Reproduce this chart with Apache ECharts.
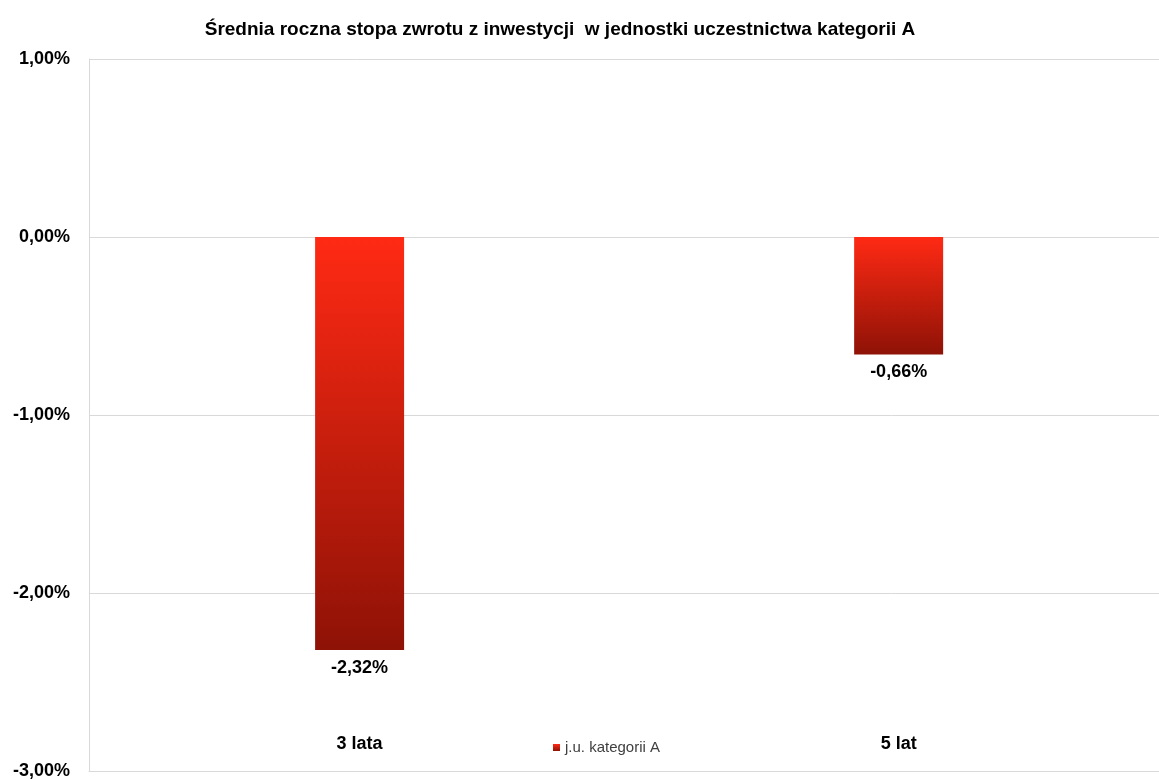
<!DOCTYPE html>
<html><head><meta charset="utf-8">
<script src="https://cdn.jsdelivr.net/npm/echarts@6/dist/echarts.min.js"></script>
<style>html,body{margin:0;padding:0;background:#fff}#c{width:1159px;height:780px}</style>
</head><body><div id="c"></div>
<script>
var titleText = 'Średnia roczna stopa zwrotu z inwestycji  w jednostki uczestnictwa kategorii A';
var categories = ['3 lata', '5 lat'];
var seriesName = 'j.u. kategorii A';
var values = [-2.32, -0.66];
var yMin = -3, yMax = 1, yStep = 1;

function fmt(v) { return v.toFixed(2).replace('.', ',') + '%'; }
var FONT = '"Liberation Sans", Arial, sans-serif';
var catIdx = categories.map(function (c, i) { return i; });
var seriesData = values.map(function (v, i) { return [i, v]; });
var chart = echarts.init(document.getElementById('c'));
chart.setOption({
  animation: false,
  title: {
    text: titleText, left: 555, textAlign: 'center', top: 15,
    textStyle: { fontFamily: FONT, fontSize: 19, fontWeight: 'bold', color: '#000' }
  },
  legend: {
    data: [seriesName], left: 548, top: 735, icon: 'rect', itemWidth: 7, itemHeight: 7, itemGap: 4,
    textStyle: { fontFamily: FONT, fontSize: 15, color: '#404040' }
  },
  grid: { left: 89, top: 59, right: 0, bottom: 9, containLabel: false },
  xAxis: {
    type: 'value', min: -0.502, max: 1.483,
    axisLine: { show: true, onZero: false, lineStyle: { color: '#d9d9d9' } },
    axisTick: { show: false },
    splitLine: { show: false },
    axisLabel: {
      customValues: catIdx, inside: true, margin: 18,
      formatter: function (v) { return categories[Math.round(v)] || ''; },
      fontFamily: FONT, fontSize: 18, fontWeight: 'bold', color: '#000'
    }
  },
  yAxis: {
    type: 'value', min: yMin, max: yMax, interval: yStep,
    axisLine: { show: true, onZero: false, lineStyle: { color: '#d9d9d9' } },
    axisTick: { show: false },
    splitLine: { lineStyle: { color: '#d9d9d9' } },
    axisLabel: { margin: 19, formatter: function (v) { return fmt(v); }, fontFamily: FONT, fontSize: 18, fontWeight: 'bold', color: '#000' }
  },
  series: [{
    name: seriesName, type: 'bar', data: seriesData, barWidth: 89,
    itemStyle: {
      color: new echarts.graphic.LinearGradient(0, 0, 0, 1, [
        { offset: 0, color: '#ff2a14' },
        { offset: 1, color: '#8e1206' }
      ])
    },
    label: {
      show: true, position: 'bottom', distance: 9,
      formatter: function (p) { return fmt(p.value[1]); },
      fontFamily: FONT, fontSize: 18, fontWeight: 'bold', color: '#000'
    }
  }]
});
</script></body></html>
